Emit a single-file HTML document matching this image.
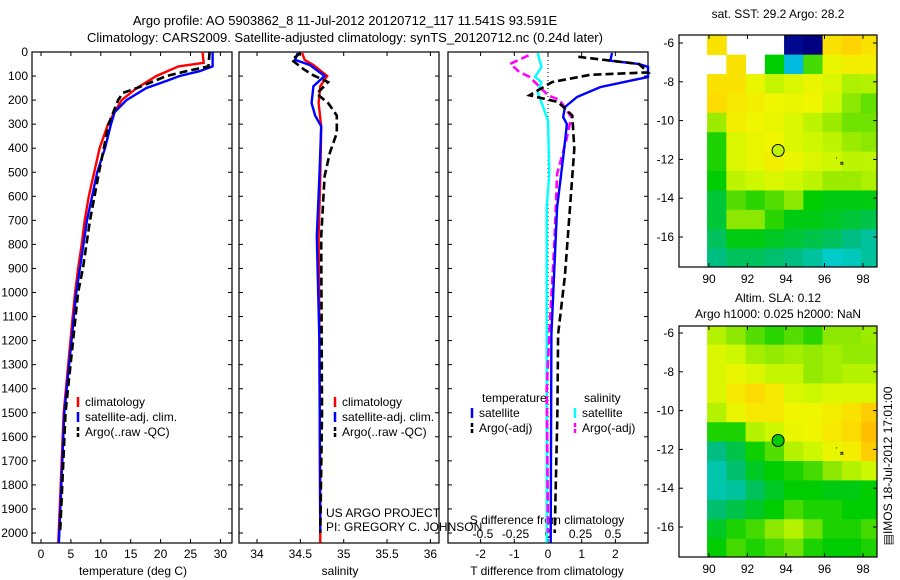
<!DOCTYPE html>
<html><head><meta charset="utf-8"><style>
html,body{margin:0;padding:0;background:#fff;}
svg{display:block;font-family:"Liberation Sans",sans-serif;font-size:12px;}
</style></head><body>
<svg id="fig" width="900" height="580" viewBox="0 0 900 580">
<text x="345" y="25" text-anchor="middle" font-size="13">Argo profile: AO 5903862_8 11-Jul-2012 20120712_117 11.541S 93.591E</text>
<text x="345" y="42" text-anchor="middle" font-size="13">Climatology: CARS2009. Satellite-adjusted climatology: synTS_20120712.nc (0.24d later)</text>
<g id="plots"></g>
</svg>
<script>
// ---- profile data ----
const tClimDepth=[0,45,60,100,150,200,250,300,400,500,600,700,800,900,1000,1100,1500,2040];
const tClim=[27,27.2,23,19.3,16,13.5,12.3,11.2,9.8,8.9,8,7.3,6.8,6.2,5.7,5.3,3.8,2.9];
const tSatDepth=[0,60,80,100,120,150,200,250,300,400,500,700,1000,1500,2040];
const tSat=[28.7,28.7,26.5,23.2,21,17.6,14.3,12.3,11.7,10.7,9.4,7.7,5.9,3.9,3.0];
const tArgoDepth=[0,60,80,100,150,170,200,300,400,500,700,900,1000,1500,2000];
const tArgo=[28.2,28,24.3,21,16,13.7,12.9,11.3,10.5,9.7,8.2,7,6.2,4.1,3.2];
const sClimDepth=[4,33,54,100,142,212,309,517,767,1200,2040];
const sClim=[34.52,34.55,34.65,34.81,34.73,34.71,34.74,34.73,34.71,34.72,34.73];
const sSatDepth=[4,33,54,100,142,212,264,309,517,767,1200,2000];
const sSat=[34.47,34.44,34.61,34.78,34.65,34.63,34.67,34.74,34.72,34.69,34.72,34.73];
const sArgoDepth=[4,33,72,97,125,174,212,264,337,420,517,767,1500,2000];
const sArgo=[34.5,34.4,34.54,34.65,34.82,34.69,34.82,34.92,34.92,34.84,34.78,34.74,34.75,34.73];
const dTSatDepth=[4,36,50,62,104,146,187,229,271,300,438,646,924,1174,2040];
const dTSat=[1.9,1.85,2.7,3.2,3.2,1.55,0.86,0.5,0.45,0.56,0.45,0.27,0.18,0.1,0.08];
const dTArgoDepth=[20,50,85,95,125,180,208,264,403,653,931,1174,1500,2000];
const dTArgo=[0.9,2.7,3.2,1.25,0.12,-0.55,0.3,0.72,0.78,0.65,0.5,0.3,0.28,0.2];
const dSSatDepth=[4,62,104,125,166,285,507,646,1200,2040];
const dSSat=[-0.08,-0.05,-0.1,-0.05,-0.08,0,0.01,-0.01,-0.01,-0.01];
const dSArgoDepth=[14,49,83,104,180,200,271,368,507,785,1174,1400,2000];
const dSArgo=[-0.15,-0.29,-0.22,-0.14,0,0.09,0.18,0.14,0.07,0.05,0.01,-0.01,0];
const depthTicks=[0,100,200,300,400,500,600,700,800,900,1000,1100,1200,1300,1400,1500,1600,1700,1800,1900,2000];
const tTicks=[0,5,10,15,20,25,30];
const sTicks=[34,34.5,35,35.5,36];
const dTTicks=[-2,-1,0,1,2];
const dSTicks=[-0.5,-0.25,0,0.25,0.5];
const dSTickLabels=['-0.5','-0.25','0','0.25','0.5'];
// ---- map data (value 0..1 colour index, null = no data) ----
const mapLonEdges=[89.9,90.9,91.9,92.9,93.9,94.9,95.9,96.9,97.9,98.8];
const mapLatEdges=[-5.6,-6.6,-7.6,-8.6,-9.6,-10.6,-11.6,-12.6,-13.6,-14.6,-15.6,-16.6,-17.6];
const sstGrid=[
[0.66,null,null,null,0.02,0,0.66,0.68,0.66],
[null,0.66,null,0.4,0.26,0.45,0.62,0.64,0.64],
[0.66,0.66,0.62,0.57,0.6,0.62,0.6,0.54,0.55],
[0.67,0.65,0.64,0.63,0.62,0.63,0.58,0.5,0.47],
[0.52,0.64,0.63,0.62,0.6,0.56,0.52,0.48,0.48],
[0.42,0.6,0.62,0.63,0.6,0.58,0.56,0.52,0.5],
[0.42,0.6,0.62,0.64,0.62,0.6,0.58,0.56,0.56],
[0.4,0.56,0.58,0.6,0.58,0.56,0.52,0.52,0.54],
[0.37,0.46,0.43,0.46,0.5,0.4,0.39,0.39,0.39],
[0.37,0.5,0.5,0.43,0.39,0.39,0.38,0.37,0.36],
[0.35,0.39,0.39,0.38,0.37,0.36,0.35,0.33,0.31],
[0.33,0.35,0.35,0.34,0.33,0.31,0.28,0.29,0.31]];
const slaGrid=[
[0.55,0.5,0.46,0.43,0.46,0.43,0.5,0.5,0.52],
[0.6,0.58,0.53,0.51,0.53,0.51,0.53,0.51,0.51],
[0.6,0.62,0.6,0.57,0.57,0.51,0.53,0.55,0.55],
[0.6,0.65,0.67,0.65,0.6,0.58,0.6,0.6,0.6],
[0.55,0.62,0.65,0.65,0.63,0.63,0.64,0.66,0.69],
[0.42,0.42,0.55,0.58,0.62,0.63,0.65,0.67,0.71],
[0.33,0.36,0.41,0.46,0.55,0.58,0.62,0.64,0.69],
[0.3,0.34,0.38,0.4,0.42,0.45,0.5,0.55,0.58],
[0.3,0.31,0.35,0.38,0.4,0.4,0.39,0.39,0.4],
[0.34,0.36,0.38,0.4,0.45,0.42,0.42,0.4,0.4],
[0.38,0.42,0.45,0.5,0.55,0.48,0.42,0.42,0.45],
[0.4,0.45,0.42,0.45,0.48,0.42,0.4,0.4,0.42]];
const mapLonTicks=[90,92,94,96,98];
const mapLatTicks=[-6,-8,-10,-12,-14,-16];
const argoLon=93.591, argoLat=-11.541;
const sstArgoValue=0.56, slaArgoValue=0.4;

const NS='http://www.w3.org/2000/svg';
const root=document.getElementById('plots');
function mk(tag,attrs,parent,text){const e=document.createElementNS(NS,tag);for(const k in attrs)e.setAttribute(k,attrs[k]);if(text!==undefined)e.textContent=text;(parent||root).appendChild(e);return e;}
const Y=d=>52+d*0.2405;
const yBottom=543;

function frame(x0,x1,name){
  const g=mk('g',{});
  
  
  mk('rect',{x:x0,y:52,width:x1-x0,height:yBottom-52,fill:'none',stroke:'#000','stroke-width':1.2},g);
  depthTicks.forEach(d=>{
    mk('line',{x1:x0,x2:x0+4,y1:Y(d),y2:Y(d),stroke:'#000'},g);
    mk('line',{x1:x1,x2:x1-4,y1:Y(d),y2:Y(d),stroke:'#000'},g);
  });
  return g;
}
function xTicks(g,vals,fx,labels,ly){
  vals.forEach((v,i)=>{
    const x=fx(v);
    mk('line',{x1:x,x2:x,y1:yBottom,y2:yBottom-4,stroke:'#000'},g);
    mk('line',{x1:x,x2:x,y1:52,y2:56,stroke:'#000'},g);
    const t=mk('text',{x:x,y:ly,'text-anchor':'middle'},g,labels?labels[i]:String(v));
    
    
  });
}
function profile(g,depths,vals,fx,color,dashed,name,x0,x1){
  const pts=depths.map((d,i)=>{let x=fx(vals[i]);x=Math.max(x0,Math.min(x1,x));return x.toFixed(1)+','+Y(d).toFixed(1);}).join(' ');
  const p=mk('polyline',{points:pts,fill:'none',stroke:color,'stroke-width':dashed?2.6:2.4,'stroke-dasharray':dashed?'8,4':'none'},g);
  
  
}
function legendEntry(g,x,y,color,dashed,label,name){
  const e=mk('g',{},g);
  
  
  mk('line',{x1:x,x2:x,y1:y-9,y2:y+1,stroke:color,'stroke-width':2.5,'stroke-dasharray':dashed?'4,2':'none'},e);
  mk('text',{x:x+7,y:y},e,label);
}

// Panel 1: temperature
const fT=v=>41+v*5.98;
const g1=frame(32,232,'temperature-panel');
depthTicks.forEach(d=>{const t=mk('text',{x:28,y:Y(d)+4,'text-anchor':'end'},g1,String(d));});
xTicks(g1,tTicks,fT,null,558);
mk('text',{x:133,y:575,'text-anchor':'middle'},g1,'temperature (deg C)');
profile(g1,tClimDepth,tClim,fT,'#f00',false,'climatology-temperature',32,232);
profile(g1,tSatDepth,tSat,fT,'#00f',false,'satellite-temperature',32,232);
profile(g1,tArgoDepth,tArgo,fT,'#000',true,'argo-temperature',32,232);
legendEntry(g1,78,406,'#f00',false,'climatology','legend-climatology');
legendEntry(g1,78,421,'#00f',false,'satellite-adj. clim.','legend-satellite');
legendEntry(g1,78,436,'#000',true,'Argo(..raw -QC)','legend-argo');

// Panel 2: salinity
const fS=v=>257+(v-34)*86.7;
const g2=frame(239,439,'salinity-panel');
xTicks(g2,sTicks,fS,null,558);
mk('text',{x:340,y:575,'text-anchor':'middle'},g2,'salinity');
profile(g2,sClimDepth,sClim,fS,'#f00',false,'climatology-salinity',239,439);
profile(g2,sSatDepth,sSat,fS,'#00f',false,'satellite-salinity',239,439);
profile(g2,sArgoDepth,sArgo,fS,'#000',true,'argo-salinity',239,439);
legendEntry(g2,335,406,'#f00',false,'climatology','legend-climatology');
legendEntry(g2,335,421,'#00f',false,'satellite-adj. clim.','legend-satellite');
legendEntry(g2,335,436,'#000',true,'Argo(..raw -QC)','legend-argo');
mk('text',{x:326,y:517},g2,'US ARGO PROJECT');
mk('text',{x:326,y:531},g2,'PI: GREGORY C. JOHNSON');

// Panel 3: differences
const fDT=v=>548+v*33.7;
const fDS=v=>548+v*130;
const g3=frame(448,648,'difference-panel');
xTicks(g3,dTTicks,fDT,null,558);
dSTicks.forEach((v,i)=>{const t=mk('text',{x:fDS(v),y:538,'text-anchor':'middle'},g3,dSTickLabels[i]);});
mk('text',{x:547,y:524,'text-anchor':'middle'},g3,'S difference from climatology');
mk('text',{x:547,y:575,'text-anchor':'middle'},g3,'T difference from climatology');
mk('line',{x1:fDT(0),x2:fDT(0),y1:52,y2:yBottom,stroke:'#000','stroke-dasharray':'1,3'},g3);
profile(g3,dSSatDepth,dSSat,fDS,'#0ff',false,'satellite-s-diff',448,648);
profile(g3,dSArgoDepth,dSArgo,fDS,'#f0f',true,'argo-s-diff',448,648);
profile(g3,dTSatDepth,dTSat,fDT,'#00f',false,'satellite-t-diff',448,648);
profile(g3,dTArgoDepth,dTArgo,fDT,'#000',true,'argo-t-diff',448,648);
mk('text',{x:482,y:402},g3,'temperature');
mk('text',{x:584,y:402},g3,'salinity');
legendEntry(g3,472,417,'#00f',false,'satellite','legend-t-satellite');
legendEntry(g3,472,432,'#000',true,'Argo(-adj)','legend-t-argo');
legendEntry(g3,575,417,'#0ff',false,'satellite','legend-s-satellite');
legendEntry(g3,575,432,'#f0f',true,'Argo(-adj)','legend-s-argo');

// Maps
const cstops=[[0,[0,0,128]],[0.2,[0,80,255]],[0.27,[0,205,215]],[0.33,[0,190,130]],[0.4,[0,205,0]],[0.5,[140,232,0]],[0.58,[205,248,0]],[0.63,[240,245,0]],[0.68,[255,212,0]],[0.74,[255,170,0]],[1,[200,0,0]]];
function cmap(v){for(let i=1;i<cstops.length;i++){if(v<=cstops[i][0]){const a=cstops[i-1],b=cstops[i];const t=(v-a[0])/(b[0]-a[0]);const c=a[1].map((x,k)=>Math.round(x+(b[1][k]-x)*t));return 'rgb('+c.join(',')+')';}}return 'rgb(200,0,0)';}
function drawMap(grid,y0,y1,lat6y,lat16y,name,argoVal){
  const x0=679,x1=877;
  const fx=lon=>709+(lon-90)*19.25;
  const fy=lat=>lat6y+(-6-lat)*(lat16y-lat6y)/10;
  const g=mk('g',{});
  
  
  grid.forEach((row,r)=>row.forEach((v,c)=>{
    if(v===null)return;
    const xa=fx(mapLonEdges[c]),xb=Math.min(fx(mapLonEdges[c+1]),x1);
    const ya=Math.max(fy(mapLatEdges[r]),y0),yb=Math.min(fy(mapLatEdges[r+1]),y1);
    const cell=mk('rect',{x:xa,y:ya,width:xb-xa+0.5,height:yb-ya+0.5,fill:cmap(v)},g);
    
    
  }));
  mk('rect',{x:x0,y:y0,width:x1-x0,height:y1-y0,fill:'none',stroke:'#000','stroke-width':1.2},g);
  mapLonTicks.forEach(l=>{const x=fx(l);mk('line',{x1:x,x2:x,y1:y1,y2:y1-4,stroke:'#000'},g);mk('line',{x1:x,x2:x,y1:y0,y2:y0+4,stroke:'#000'},g);mk('text',{x:x,y:y1+16,'text-anchor':'middle'},g,String(l));});
  mapLatTicks.forEach(l=>{const y=fy(l);mk('line',{x1:x0,x2:x0+4,y1:y,y2:y,stroke:'#000'},g);mk('line',{x1:x1,x2:x1-4,y1:y,y2:y,stroke:'#000'},g);mk('text',{x:x0-5,y:y+4,'text-anchor':'end'},g,String(l));});
  const m=mk('circle',{cx:fx(argoLon),cy:fy(argoLat),r:6,fill:cmap(argoVal),stroke:'#000','stroke-width':1},g);
  
  
  mk('rect',{x:fx(96.85),y:fy(-12.15),width:2,height:2,fill:'none',stroke:'#000','stroke-width':0.8},g);
  mk('rect',{x:fx(96.6),y:fy(-11.9),width:1,height:1,fill:'#000'},g);
}
drawMap(sstGrid,35,267,43,237,'sst-map',sstArgoValue);
drawMap(slaGrid,326,557,333,527,'sla-map',slaArgoValue);
mk('text',{x:778,y:18,'text-anchor':'middle'},null,'sat. SST: 29.2 Argo: 28.2');
mk('text',{x:778,y:302,'text-anchor':'middle'},null,'Altim. SLA: 0.12');
mk('text',{x:778,y:318,'text-anchor':'middle'},null,'Argo h1000: 0.025 h2000: NaN');
const ts=mk('text',{x:0,y:0,transform:'translate(892,466) rotate(-90)','text-anchor':'middle'},null,'\u25A4IMOS 18-Jul-2012 17:01:00');


</script>
</body></html>
